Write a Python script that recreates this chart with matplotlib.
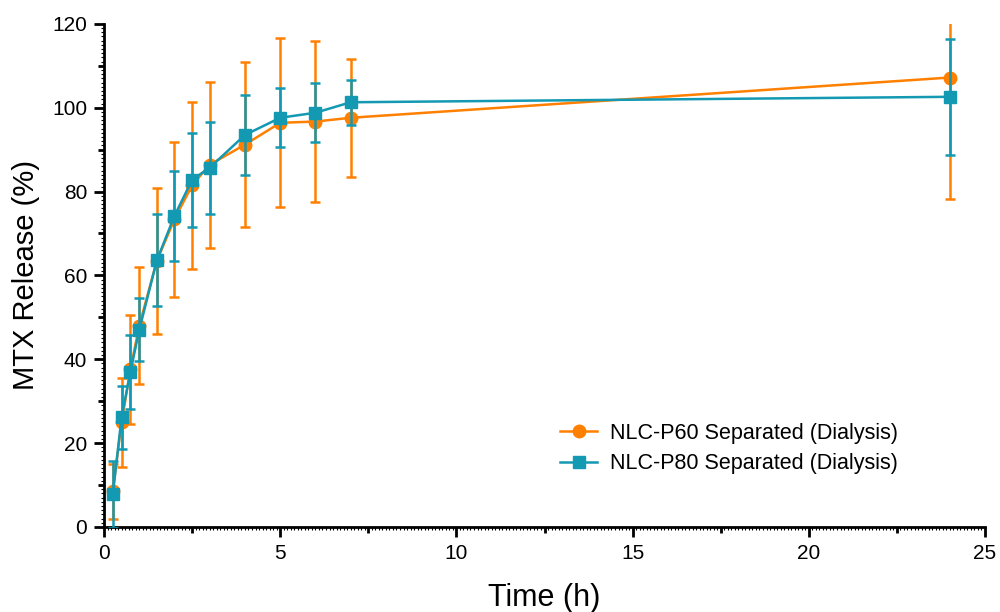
import numpy as np
import matplotlib
matplotlib.use('Agg')
import matplotlib.pyplot as plt
from matplotlib.ticker import MultipleLocator
from matplotlib.lines import Line2D

plt.rcParams['font.family'] = ['Liberation Sans', 'DejaVu Sans']

# time points (h)
time = [0.25, 0.5, 0.75, 1, 1.5, 2, 2.5, 3, 4, 5, 6, 7, 24]

# NLC-P60 separated (dialysis)
p60 = [8.5, 25.0, 37.6, 48.0, 63.5, 73.4, 81.5, 86.4, 91.2, 96.4, 96.7, 97.6, 107.2]
p60_err = [6.5, 10.6, 13.0, 14.0, 17.4, 18.5, 19.9, 19.8, 19.6, 20.2, 19.1, 14.1, 28.9]

# NLC-P80 separated (dialysis)
p80 = [7.8, 26.2, 37.0, 47.0, 63.6, 74.2, 82.8, 85.7, 93.5, 97.6, 98.8, 101.3, 102.6]
p80_err = [8.0, 7.5, 8.8, 7.5, 11.0, 10.7, 11.2, 11.0, 9.5, 7.0, 7.0, 5.4, 13.9]

labels = ['NLC-P60 Separated (Dialysis)', 'NLC-P80 Separated (Dialysis)']
orange = '#ff8000'
teal = '#1399b2'

fig = plt.figure(figsize=(10, 6.12), dpi=100)
ax = fig.add_axes([0.104, 0.139, 0.881, 0.822])

ax.errorbar(time, p60, yerr=p60_err, color=orange, marker='o', markersize=9,
            lw=1.8, elinewidth=1.8, capsize=3.5, capthick=1.8, zorder=3)
ax.errorbar(time, p80, yerr=p80_err, color=teal, marker='s', markersize=9,
            lw=1.8, elinewidth=1.8, capsize=3.5, capthick=1.8, zorder=4)

ax.set_xlim(0, 25)
ax.set_ylim(0, 120)
ax.xaxis.set_major_locator(MultipleLocator(5))
ax.xaxis.set_minor_locator(MultipleLocator(2.5))
ax.yaxis.set_major_locator(MultipleLocator(20))
ax.yaxis.set_minor_locator(MultipleLocator(10))

for s in ['top', 'right']:
    ax.spines[s].set_visible(False)
for s in ['left', 'bottom']:
    ax.spines[s].set_linewidth(2)

ax.tick_params(which='major', length=7, width=2, labelsize=15, pad=5)
ax.tick_params(which='minor', length=4, width=2)

# tiny ticks along the axes
secx = ax.secondary_xaxis('bottom')
secx.set_xticks(np.arange(0, 25.01, 0.1))
secx.tick_params(length=2.5, width=0.8, labelbottom=False)
secx.spines['bottom'].set_visible(False)
secy = ax.secondary_yaxis('left')
secy.set_yticks(np.arange(0, 120.01, 1))
secy.tick_params(length=2.5, width=0.8, labelleft=False)
secy.spines['left'].set_visible(False)

ax.set_xlabel('Time (h)', fontsize=22, labelpad=15)
ax.set_ylabel('MTX Release (%)', fontsize=21, labelpad=9)

handles = [Line2D([], [], color=orange, marker='o', markersize=9, lw=1.8),
           Line2D([], [], color=teal, marker='s', markersize=9, lw=1.8)]
ax.legend(handles, labels, loc='lower left', bbox_to_anchor=(0.496, 0.066),
          frameon=False, fontsize=15.5, handlelength=1.7, handletextpad=0.6,
          labelspacing=0.45)

fig.savefig('out.png', dpi=100)
